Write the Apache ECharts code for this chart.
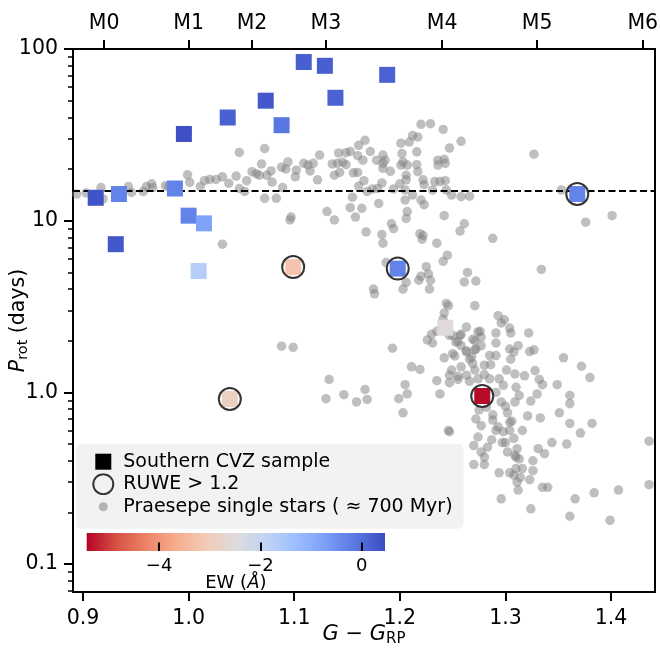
<!DOCTYPE html>
<html><head><meta charset="utf-8">
<script src="https://cdn.jsdelivr.net/npm/echarts@6/dist/echarts.min.js"></script>
<style>html,body{margin:0;padding:0;background:#fff}#c{width:660px;height:654px}</style>
</head><body><div id="c"></div>
<script>
// ---- Praesepe single stars (G-G_RP, Prot days) ----
const praeseX = [0.894,0.903,0.917,0.919,0.943,0.946,0.957,0.960,0.965,0.966,0.978,0.981,0.999,1.001,1.011,1.015,1.020,1.026,1.032,1.038,1.045,1.048,1.048,1.053,1.055,1.060,1.064,1.067,1.069,1.072,1.072,1.074,1.078,1.079,1.083,1.088,1.089,1.092,1.094,1.096,1.097,1.032,1.101,1.102,1.109,1.113,1.118,1.115,1.122,1.124,1.131,1.138,1.136,1.138,1.141,1.142,1.143,1.146,1.149,1.149,1.153,1.153,1.155,1.156,1.158,1.160,1.160,1.161,1.161,1.165,1.164,1.166,1.167,1.168,1.169,1.172,1.174,1.178,1.179,1.180,1.183,1.184,1.183,1.184,1.184,1.184,1.186,1.191,1.192,1.194,1.194,1.201,1.201,1.200,1.202,1.203,1.205,1.205,1.206,1.206,1.206,1.207,1.207,1.209,1.212,1.212,1.216,1.216,1.217,1.217,1.219,1.220,1.220,1.221,1.222,1.222,1.223,1.223,1.229,1.231,1.233,1.235,1.236,1.236,1.238,1.241,1.242,1.242,1.243,1.243,1.244,1.245,1.247,1.249,1.241,1.257,1.258,1.258,1.261,1.266,1.288,1.327,1.353,1.376,1.401,
1.187,1.225,1.227,1.220,1.218,1.229,1.228,1.206,1.203,1.175,1.176,1.264,1.261,1.272,1.334,1.244,1.246,1.242,1.271,1.241,1.235,1.226,1.231,1.247,1.257,1.263,1.253,1.258,1.269,1.274,1.272,1.263,1.268,1.252,1.242,1.269,1.258,1.249,1.247,1.255,1.263,1.247,1.235,1.238,1.266,1.211,1.219,1.193,1.133,1.088,1.099,1.147,1.130,1.159,1.167,1.169,1.205,1.207,1.199,1.203,
1.293,1.299,1.296,1.304,1.322,1.230,1.250,1.258,1.276,1.277,1.291,1.305,1.255,1.271,1.277,1.291,1.312,1.327,1.323,1.304,1.308,1.250,1.263,1.271,1.285,1.291,1.266,1.280,1.286,1.305,1.355,1.372,1.380,1.271,1.280,1.301,1.309,1.318,1.328,1.332,1.335,1.349,1.255,1.274,1.285,1.294,1.298,1.310,1.291,1.313,1.330,1.361,1.361,1.296,1.300,1.309,1.324,1.282,1.275,1.288,1.302,1.321,1.333,1.351,1.272,1.277,1.293,1.304,1.361,1.382,1.246,1.247,1.288,1.291,1.298,1.306,1.316,1.371,1.274,1.287,1.300,1.308,1.270,1.283,1.277,1.302,1.311,1.280,1.309,1.313,1.270,1.280,1.331,1.337,1.344,1.358,1.326,1.294,1.304,1.308,1.310,1.316,1.326,1.314,1.323,1.311,1.312,1.335,1.340,1.296,1.324,1.366,1.384,1.407,1.361,1.399,1.436,1.436,1.310,1.304,1.297];
const praeseP = [14.3,14.5,15.6,13.4,15.8,14.6,14.8,15.8,16.4,15.6,16.0,15.8,18.5,16.7,15.8,17.1,17.4,17.4,18.0,16.5,18.2,25.0,15.4,14.8,17.1,19.3,18.8,18.4,21.4,26.3,13.5,18.4,19.5,16.8,13.5,20.5,15.6,20.0,22.0,10.1,10.5,7.3,18.0,19.7,21.6,21.1,21.6,19.5,17.3,24.1,11.3,10.1,21.4,18.4,21.6,24.8,19.1,21.9,24.9,21.2,25.3,11.9,13.7,19.0,10.5,23.9,19.1,27.5,15.9,22.5,11.8,17.1,29.4,8.6,14.8,25.3,15.3,22.5,15.4,12.6,8.3,7.4,16.6,21.6,20.2,24.1,22.5,19.4,9.6,9.0,15.3,28.3,21.1,16.4,24.6,22.0,15.1,13.2,18.4,17.3,10.3,21.1,11.3,28.7,14.1,31.4,25.2,21.2,30.7,19.3,8.4,36.4,13.2,7.8,17.3,8.2,16.2,12.4,36.7,15.1,16.9,7.4,21.1,22.5,16.9,34.0,22.8,10.7,21.6,17.1,15.1,6.3,26.5,14.1,5.8,8.7,13.8,29.0,9.6,13.9,7.9,24.4,15.1,9.8,10.7,
5.7,5.4,4.9,4.75,4.5,4.5,4.0,4.37,4.0,4.0,3.75,5.0,4.4,4.45,5.2,3.3,3.2,2.9,3.2,2.67,2.27,2.02,1.94,2.15,2.15,2.4,1.96,1.87,2.04,2.25,1.79,1.72,1.61,1.63,1.59,1.47,1.41,1.35,1.26,1.24,1.26,1.14,1.17,0.98,1.16,1.41,1.36,1.81,1.19,1.86,1.83,0.97,0.92,0.88,1.04,0.91,1.11,0.98,0.92,0.76,
2.8,2.65,2.54,2.37,2.22,2.18,2.15,2.18,2.27,2.1,2.22,2.22,1.98,2.0,1.87,1.94,1.87,1.77,1.73,1.79,1.72,1.68,1.75,1.77,1.64,1.64,1.56,1.44,1.45,1.56,1.59,1.42,1.22,1.35,1.27,1.35,1.28,1.25,1.34,1.19,1.11,1.11,1.19,1.20,1.20,1.20,1.10,1.07,1.0,0.96,0.98,0.96,0.86,0.88,0.83,0.88,0.89,0.82,0.79,0.74,0.76,0.73,0.71,0.76,0.70,0.64,0.63,0.67,0.66,0.66,0.60,0.59,0.69,0.60,0.59,0.68,0.60,0.58,0.55,0.53,0.51,0.54,0.49,0.48,0.45,0.45,0.47,0.42,0.43,0.41,0.38,0.38,0.47,0.44,0.51,0.50,0.40,0.34,0.34,0.33,0.36,0.36,0.35,0.32,0.31,0.30,0.27,0.28,0.28,0.24,0.21,0.24,0.26,0.27,0.19,0.18,0.52,0.29,0.42,0.60,0.51];

// ---- Southern CVZ sample ----
const cvzX  = [0.912,0.934,0.931,0.9955,0.987,1.000,1.0145,1.0095,1.037,1.073,1.088,1.109,1.129,1.139,1.188,1.099,1.039,1.198,1.368,1.243,1.278];
const cvzP  = [13.6,14.3,7.3,32.0,15.4,10.7,9.65,5.09,39.9,50.0,36.0,84.0,79.8,52.0,70.7,5.37,0.915,5.26,14.3,2.38,0.953];
const cvzEW = [0.35,-0.3,0.3,0.4,-0.3,-0.3,-0.8,-1.72,0.17,0.3,-0.13,0.2,0.2,0.15,0.15,-3.19,-2.9,-0.3,-0.3,-2.54,-5.37];
const cvzRuweHigh = [0,0,0,0,0,0,0,0,0,0,0,0,0,0,0,1,1,1,1,0,1];

// ---- axes / annotations ----
const xRange = [0.8905, 1.4416];
const yRange = [0.0688, 100];
const xTicks = [0.9, 1.0, 1.1, 1.2, 1.3, 1.4];
const yTicks = [0.1, 1, 10, 100];
const yMinorTicks = [0.07,0.08,0.09,0.2,0.3,0.4,0.5,0.6,0.7,0.8,0.9,2,3,4,5,6,7,8,9,20,30,40,50,60,70,80,90];
const spectralTypes = ['M0','M1','M2','M3','M4','M5','M6'];
const spectralX = [0.92, 1.00, 1.06, 1.13, 1.24, 1.33, 1.43];
const periodLine = 15;
const ewRange = [-5.43, 0.46];
const ewTicks = [-4, -2, 0];
const cmap = ['#b40426','#d65244','#ee8468','#f7ac8e','#f2cbb7','#dddcdc','#c0d4f5','#9ebeff','#7b9ff9','#5977e3','#3b4cc0'];

const FONT = 'DejaVu Sans';
const chart = echarts.init(document.getElementById('c'), null, {renderer: 'canvas'});

const gray = 'rgba(128,128,128,0.5)';
function svgIcon(inner) {
  return 'image://data:image/svg+xml;charset=utf-8,' + encodeURIComponent(
    "<svg xmlns='http://www.w3.org/2000/svg' width='30' height='22' viewBox='0 0 30 22'>" + inner + "</svg>");
}
const iconSquare = svgIcon("<rect x='7' y='3' width='16' height='16' fill='#000'/>");
const iconCircle = svgIcon("<circle cx='15' cy='11' r='10' fill='none' stroke='#333' stroke-width='2'/>");
const iconDot = svgIcon("<circle cx='15' cy='11' r='4.5' fill='rgba(128,128,128,0.55)'/>");

const praeseData = praeseX.map((x, i) => [x, praeseP[i]]);
const cvzData = cvzX.map((x, i) => [x, cvzP[i], cvzEW[i]]);
const ruweData = cvzData.filter((d, i) => cvzRuweHigh[i]);

const stops = cmap.map((c, i) => ({offset: i / (cmap.length - 1), color: c}));
const black = '#000';

const option = {
  animation: false,
  textStyle: {fontFamily: FONT},
  grid: [
    {left: 73, right: 5, top: 49, bottom: 62, show: true, borderColor: black, borderWidth: 2,
     backgroundColor: 'transparent', containLabel: false, outerBoundsMode: 'none'},
    {left: 86.7, width: 298.3, top: 533, height: 18, containLabel: false, outerBoundsMode: 'none'}
  ],
  xAxis: [
    {
      type: 'value', gridIndex: 0, position: 'bottom', min: xRange[0], max: xRange[1],
      axisLine: {show: true, lineStyle: {color: black, width: 2}},
      axisTick: {show: true, customValues: xTicks, length: 9, lineStyle: {color: black, width: 2}},
      axisLabel: {customValues: xTicks, formatter: v => v.toFixed(1), fontSize: 20.5, color: black, fontFamily: FONT, margin: 16},
      splitLine: {show: false},
      name: '{i|G} − {i|G}{s|RP}', nameLocation: 'middle', nameGap: 31, nameMoveOverlap: false,
      nameTextStyle: {fontSize: 21, color: black, fontFamily: FONT,
        rich: {i: {fontStyle: 'italic', fontSize: 21, fontFamily: FONT, color: black},
               s: {fontSize: 15, fontFamily: FONT, color: black, padding: [9, 0, 0, 0]}}}
    },
    {
      type: 'value', gridIndex: 0, position: 'top', min: xRange[0], max: xRange[1],
      axisLine: {show: true, lineStyle: {color: black, width: 2}},
      axisTick: {show: true, customValues: spectralX, length: 9, lineStyle: {color: black, width: 2}},
      axisLabel: {customValues: spectralX, fontSize: 20.5, color: black, fontFamily: FONT, margin: 15,
        formatter: v => { let k = 0, b = 1e9; spectralX.forEach((s, i) => { const d = Math.abs(s - v); if (d < b) { b = d; k = i; } }); return spectralTypes[k]; }},
      splitLine: {show: false}
    },
    {
      type: 'value', gridIndex: 1, min: ewRange[0], max: ewRange[1], z: 10,
      axisLine: {show: false},
      axisTick: {show: true, inside: true, customValues: ewTicks, length: 8.5, lineStyle: {color: black, width: 2}},
      axisLabel: {customValues: ewTicks, fontSize: 18, color: black, fontFamily: FONT, margin: 6,
        formatter: v => (v < 0 ? '\u2212' + Math.abs(v) : String(v))},
      splitLine: {show: false},
      name: 'EW ({i|Å})', nameLocation: 'middle', nameGap: 23, nameMoveOverlap: false,
      nameTextStyle: {fontSize: 18, color: black, fontFamily: FONT,
        rich: {i: {fontStyle: 'italic', fontSize: 18, fontFamily: FONT, color: black}}}
    }
  ],
  yAxis: [
    {
      type: 'log', logBase: 10, gridIndex: 0, position: 'left', min: yRange[0], max: yRange[1],
      axisLine: {show: true, lineStyle: {color: black, width: 2}},
      axisTick: {show: true, customValues: yTicks, length: 9, lineStyle: {color: black, width: 2}},
      axisLabel: {customValues: yTicks, fontSize: 20.5, color: black, fontFamily: FONT, margin: 15,
        formatter: v => (v >= 10 ? String(Math.round(v)) : v.toFixed(1))},
      splitLine: {show: false},
      name: '{i|P}{s|rot} (days)', nameLocation: 'middle', nameGap: 42, nameRotate: 90, nameMoveOverlap: false,
      nameTextStyle: {fontSize: 20.5, color: black, fontFamily: FONT,
        rich: {i: {fontStyle: 'italic', fontSize: 20.5, fontFamily: FONT, color: black},
               s: {fontSize: 14.5, fontFamily: FONT, color: black, padding: [9, 0, 0, 0]}}}
    },
    {
      type: 'log', logBase: 10, gridIndex: 0, position: 'left', offset: 0, min: yRange[0], max: yRange[1],
      axisLine: {show: false},
      axisTick: {show: true, customValues: yMinorTicks, length: 5, lineStyle: {color: black, width: 1.5}},
      axisLabel: {show: false},
      splitLine: {show: false}
    },
    {type: 'value', gridIndex: 1, min: 0, max: 1, show: false}
  ],
  visualMap: {
    type: 'continuous', show: false, seriesIndex: 3, dimension: 2,
    min: ewRange[0], max: ewRange[1], inRange: {color: cmap}
  },
  legend: {
    left: 76, top: 444, orient: 'vertical', itemWidth: 30, itemHeight: 22, itemGap: 0.5,
    padding: [6.7, 11, 11, 12.3], backgroundColor: '#f2f2f2', borderRadius: 5,
    textStyle: {fontSize: 19, color: black, fontFamily: FONT}, selectedMode: false,
    data: [
      {name: 'Southern CVZ sample', icon: iconSquare},
      {name: 'RUWE > 1.2', icon: iconCircle},
      {name: 'Praesepe single stars ( ≈ 700 Myr)', icon: iconDot}
    ]
  },
  series: [
    {
      name: 'Praesepe single stars ( ≈ 700 Myr)', type: 'scatter', xAxisIndex: 0, yAxisIndex: 0,
      data: praeseData, symbol: 'circle', symbolSize: 9.5, itemStyle: {color: gray, opacity: 1}, z: 2, silent: true
    },
    {
      name: 'period line', type: 'line', xAxisIndex: 0, yAxisIndex: 0, data: [], z: 3, silent: true,
      markLine: {silent: true, symbol: ['none', 'none'], label: {show: false},
        lineStyle: {color: black, type: [7, 3.5], width: 1.8, opacity: 1}, data: [{yAxis: periodLine}]}
    },
    {
      name: 'ruwe-bg', type: 'scatter', xAxisIndex: 0, yAxisIndex: 0, data: ruweData,
      symbol: 'circle', symbolSize: 22, itemStyle: {color: '#fff', opacity: 1}, z: 4, silent: true
    },
    {
      name: 'Southern CVZ sample', type: 'scatter', xAxisIndex: 0, yAxisIndex: 0, data: cvzData,
      symbol: 'rect', symbolSize: 16, z: 5, silent: true, itemStyle: {opacity: 1}
    },
    {
      name: 'RUWE > 1.2', type: 'scatter', xAxisIndex: 0, yAxisIndex: 0, data: ruweData,
      symbol: 'circle', symbolSize: 22, z: 6, silent: true,
      itemStyle: {color: 'rgba(0,0,0,0)', borderColor: '#333', borderWidth: 2, opacity: 1}
    },
    {
      name: 'colorbar', type: 'custom', xAxisIndex: 2, yAxisIndex: 2, silent: true, z: 2,
      data: [[ewRange[0], ewRange[1]]],
      renderItem: (params, api) => {
        const p0 = api.coord([api.value(0), 0]);
        const p1 = api.coord([api.value(1), 1]);
        return {type: 'rect', shape: {x: p0[0], y: p1[1], width: p1[0] - p0[0], height: p0[1] - p1[1]},
          style: {fill: new echarts.graphic.LinearGradient(0, 0, 1, 0, stops)}};
      }
    }
  ]
};
chart.setOption(option);
</script>
</body></html>
